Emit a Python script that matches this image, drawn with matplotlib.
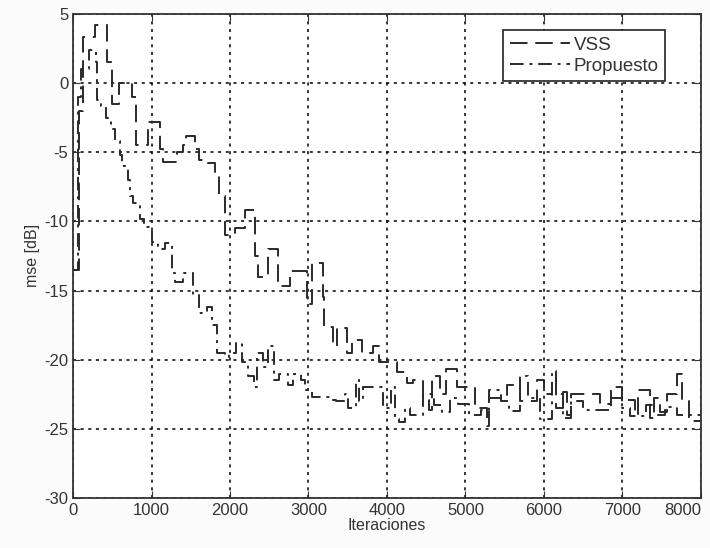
import matplotlib
matplotlib.use('Agg')
import matplotlib.pyplot as plt
import numpy as np

plt.rcParams['font.family'] = ['Liberation Sans', 'DejaVu Sans']
plt.rcParams['axes.unicode_minus'] = False

# MSE learning curves (dB) vs iteration, step-wise
vss_it = [0, 70, 120, 280, 430, 500, 580, 750, 800, 960, 1110, 1150, 1325, 1400,
          1440, 1555, 1600, 1660, 1810, 1860, 1930, 2060, 2190, 2320, 2360, 2490,
          2610, 2760, 2980, 3050, 3185, 3200, 3310, 3360, 3490, 3560, 3680, 3820,
          3900, 4130, 4250, 4330, 4460, 4530, 4570, 4675, 4750, 4890, 5120, 5275,
          5300, 5530, 5700, 5910, 6000, 6100, 6150, 6250, 6300, 6350, 6710, 6850,
          7000, 7160, 7200, 7350, 7400, 7480, 7570, 7700, 7760, 7850, 8000]
vss_db = [-13.5, -2.0, 3.3, 4.2, 1.5, -1.5, 0.0, -1.0, -4.5, -2.8, -4.8, -5.7, -5.0, -4.5,
          -3.8, -4.8, -5.6, -5.8, -6.5, -8.2, -11.0, -10.5, -9.2, -12.5, -14.0, -12.0,
          -14.7, -13.6, -16.0, -13.0, -15.5, -17.6, -19.0, -17.7, -19.5, -18.6, -19.5, -19.0,
          -20.2, -20.9, -21.7, -21.5, -22.9, -23.6, -21.2, -22.5, -20.7, -22.0, -23.5, -24.8,
          -22.8, -21.8, -23.0, -21.5, -22.5, -21.3, -23.5, -22.3, -24.0, -22.5, -23.2, -22.0,
          -22.9, -24.0, -22.2, -24.2, -22.8, -23.8, -22.5, -21.0, -23.0, -24.4, -24.4]

prop_it = [0, 60, 100, 200, 290, 310, 350, 420, 480, 530, 600, 620, 700, 730, 760,
           850, 900, 1000, 1080, 1170, 1260, 1300, 1400, 1530, 1600, 1710, 1770, 1830,
           1940, 1990, 2080, 2150, 2230, 2300, 2350, 2420, 2480, 2560, 2620, 2740, 2800,
           2900, 2960, 3050, 3280, 3350, 3470, 3500, 3600, 3650, 3700, 3800, 3950, 4050,
           4100, 4150, 4230, 4300, 4460, 4600, 4700, 4800, 4900, 5050, 5200, 5300, 5450,
           5550, 5700, 5800, 5950, 6100, 6150, 6250, 6350, 6500, 6850, 7000, 7100, 7300,
           7400, 7550, 7700, 8000]
prop_db = [-13.5, -1.0, 1.0, 2.4, 1.5, -1.2, -1.7, -2.5, -3.3, -4.2, -5.2, -6.0, -7.0, -8.2, -8.7,
           -9.8, -10.4, -11.5, -12.0, -11.6, -13.7, -14.4, -13.7, -15.3, -16.6, -16.2, -17.5, -19.5,
           -19.8, -19.5, -18.8, -20.2, -21.2, -22.0, -19.5, -20.5, -19.0, -21.5, -21.0, -21.8, -21.0,
           -21.5, -22.2, -22.7, -22.9, -23.0, -22.5, -23.5, -21.5, -23.0, -22.0, -22.0, -23.5, -22.0,
           -24.3, -24.5, -23.5, -24.0, -22.5, -23.3, -23.8, -22.8, -23.2, -24.0, -23.6, -22.2, -23.0,
           -23.7, -21.2, -22.8, -24.3, -20.8, -22.5, -24.2, -23.0, -23.6, -22.8, -23.5, -24.1, -23.3,
           -24.0, -23.4, -24.0, -24.0]

fig = plt.figure(figsize=(7.1, 5.48), dpi=100, facecolor='#fbfbfb')
ax = fig.add_axes([0.103, 0.091, 0.884, 0.884])
ax.set_facecolor('white')

ax.plot(vss_it, vss_db, drawstyle='steps-post', color='#2a2a2a', lw=1.4,
        linestyle=(0, (9, 4)), label='VSS')
ax.plot(prop_it, prop_db, drawstyle='steps-post', color='#2a2a2a', lw=1.4,
        linestyle=(0, (7, 3, 1.5, 3)), label='Propuesto')

ax.set_xlim(0, 8000)
ax.set_ylim(-30, 5)
ax.set_xticks(np.arange(0, 8001, 1000))
ax.set_yticks(np.arange(-30, 6, 5))
ax.grid(True, color='black', linestyle=(0, (2, 3)), lw=1.1)
ax.tick_params(direction='in', length=5, labelsize=12, colors='#333333', top=True, right=True)
ax.get_xticklabels()[-1].set_horizontalalignment('right')
for s in ax.spines.values():
    s.set_linewidth(1.3)
    s.set_color('#333333')

ax.set_xlabel('Iteraciones', fontsize=11.5, color='#333333', labelpad=0)
ax.set_ylabel('mse [dB]', fontsize=11.5, color='#333333', labelpad=3)

leg = ax.legend(loc='upper right', fontsize=13.5, handlelength=3.2, framealpha=1,
                fancybox=False, edgecolor='#222222', borderpad=0.35, labelspacing=0.2,
                handletextpad=0.2, bbox_to_anchor=(0.958, 0.985))
leg.get_frame().set_linewidth(1.2)
for t in leg.get_texts():
    t.set_color('#333333')

fig.savefig('out.png', dpi=100, facecolor=fig.get_facecolor())
